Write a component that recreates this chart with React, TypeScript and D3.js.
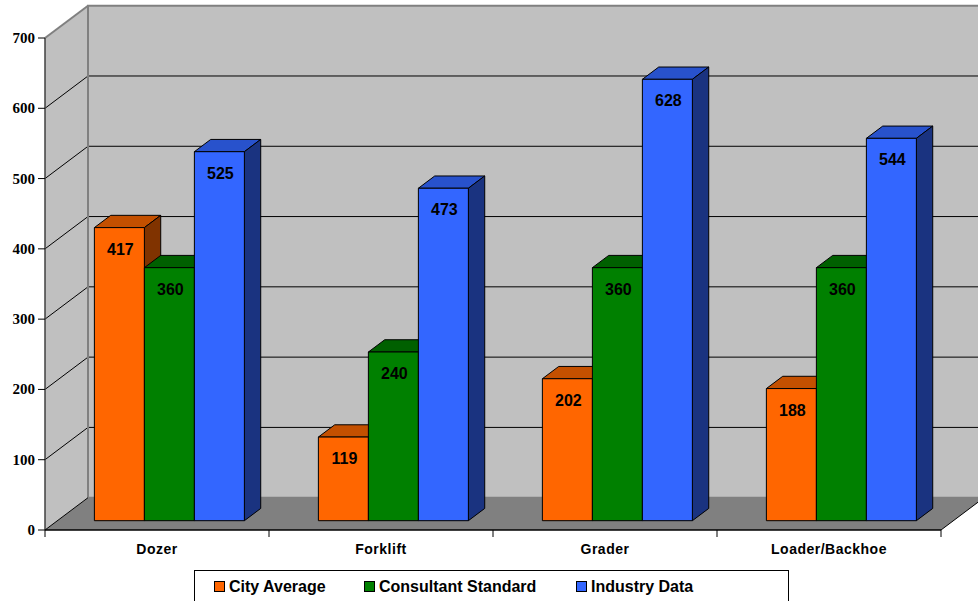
import React from "react";
import * as d3 from "d3";

// Chart data
const categories = ["Dozer", "Forklift", "Grader", "Loader/Backhoe"];
const seriesNames = ["City Average", "Consultant Standard", "Industry Data"];
const cityAverage = [417, 119, 202, 188];
const consultantStandard = [360, 240, 360, 360];
const industryData = [525, 473, 628, 544];
const yTicks = [0, 100, 200, 300, 400, 500, 600, 700];

const seriesValues = [cityAverage, consultantStandard, industryData];
const frontColors = ["#FF6600", "#008000", "#3366FF"];
const topColors = ["#C45000", "#006000", "#2852CC"];
const sideColors = ["#803300", "#004000", "#1A3380"];

const W = 978;
const H = 601;

// Oblique projection: depth fraction d in [0,1] shifts right and up
const DX = 43;
const DY = -32.3;
const BAR_FRONT = 0.288;
const BAR_DEPTH = 0.38;

const x = d3.scaleBand<string>().domain(categories).range([45, 941]).paddingInner(0).paddingOuter(0);
const xSub = d3.scaleBand<string>().domain(seriesNames).range([0, x.bandwidth()]).paddingInner(0).paddingOuter(0.74);
const y = d3.scaleLinear().domain([0, 700]).range([530, 38]);

const P = (px: number, v: number, d: number): [number, number] => [px + DX * d, y(v) + DY * d];
const poly = (pts: [number, number][]) => pts.map((p) => p.join(",")).join(" ");

export default function App() {
  const x0 = x.range()[0];
  const x1 = x.range()[1];
  const sideWall = poly([P(x0, 0, 0), P(x0, 0, 1), P(x0, 700, 1), P(x0, 700, 0)]);
  const backWall = poly([P(x0, 0, 1), P(x1, 0, 1), P(x1, 700, 1), P(x0, 700, 1)]);
  const floor = poly([P(x0, 0, 0), P(x1, 0, 0), P(x1, 0, 1), P(x0, 0, 1)]);

  const bars: React.ReactNode[] = [];
  const labels: React.ReactNode[] = [];
  categories.forEach((cat, ci) => {
    seriesNames.forEach((s, si) => {
      const v = seriesValues[si][ci];
      const left = (x(cat) as number) + (xSub(s) as number);
      const right = left + xSub.bandwidth();
      const a = BAR_FRONT;
      const b = BAR_FRONT + BAR_DEPTH;
      const top = poly([P(left, v, a), P(right, v, a), P(right, v, b), P(left, v, b)]);
      const side = poly([P(right, 0, a), P(right, 0, b), P(right, v, b), P(right, v, a)]);
      const front = poly([P(left, 0, a), P(right, 0, a), P(right, v, a), P(left, v, a)]);
      bars.push(
        <g key={`${ci}-${si}`} stroke="#000" strokeWidth={1} strokeLinejoin="round">
          <polygon points={top} fill={topColors[si]} />
          <polygon points={side} fill={sideColors[si]} />
          <polygon points={front} fill={frontColors[si]} />
        </g>
      );
      const [fx, fy] = P((left + right) / 2, v, a);
      labels.push(
        <text key={`l-${ci}-${si}`} x={fx + 1} y={fy + 27} textAnchor="middle"
          fontFamily="Liberation Sans, Arial, sans-serif" fontWeight="bold" fontSize={16} fill="#000">
          {v}
        </text>
      );
    });
  });

  const legendX = [214, 364, 576];

  return (
    <svg width={W} height={H} style={{ position: "absolute", left: 0, top: 0, background: "#fff" }}>
      {/* walls and floor */}
      <polygon points={sideWall} fill="#C0C0C0" />
      <polygon points={backWall} fill="#C0C0C0" />
      <polygon points={floor} fill="#808080" />

      {/* gridlines */}
      {yTicks.filter((t) => t > 0 && t < 700).map((t) => {
        const [ax, ay] = P(x0, t, 0);
        const [bx, by] = P(x0, t, 1);
        const [cx, cy] = P(x1, t, 1);
        return (
          <g key={`g${t}`} stroke="#000" strokeWidth={1} fill="none">
            <line x1={ax} y1={ay} x2={bx} y2={by} />
            <line x1={bx} y1={by} x2={cx} y2={cy} />
          </g>
        );
      })}

      {/* wall borders */}
      <g stroke="#808080" strokeWidth={2} fill="none">
        <polyline points={poly([P(x0, 0, 1), P(x0, 700, 1), P(x1, 700, 1)])} />
        <line x1={P(x0, 700, 0)[0]} y1={P(x0, 700, 0)[1]} x2={P(x0, 700, 1)[0]} y2={P(x0, 700, 1)[1]} />
        <line x1={P(x0, 0, 1)[0]} y1={P(x0, 0, 1)[1]} x2={P(x1, 0, 1)[0]} y2={P(x1, 0, 1)[1]} />
      </g>
      <g stroke="#000" strokeWidth={1} fill="none">
        <line x1={P(x0, 0, 0)[0]} y1={P(x0, 0, 0)[1]} x2={P(x0, 0, 1)[0]} y2={P(x0, 0, 1)[1]} />
        <line x1={P(x1, 0, 0)[0]} y1={P(x1, 0, 0)[1]} x2={P(x1, 0, 1)[0]} y2={P(x1, 0, 1)[1]} />
      </g>

      {/* bars */}
      {bars}
      {labels}

      {/* value axis */}
      <line x1={x0} y1={y(0)} x2={x0} y2={y(700)} stroke="#404040" strokeWidth={1.5} />
      {yTicks.map((t) => (
        <g key={`yt${t}`}>
          <line x1={x0 - 7} y1={y(t)} x2={x0} y2={y(t)} stroke="#000" strokeWidth={1} />
          <text x={x0 - 10} y={y(t) + 5} textAnchor="end"
            fontFamily="Liberation Serif, Times New Roman, serif" fontWeight="bold" fontSize={15} fill="#000">
            {t}
          </text>
        </g>
      ))}

      {/* category axis */}
      <line x1={x0} y1={y(0)} x2={x1} y2={y(0)} stroke="#000" strokeWidth={1.5} />
      {[...categories.map((c) => x(c) as number), x1].map((px, i) => (
        <line key={`xt${i}`} x1={px} y1={y(0)} x2={px} y2={y(0) + 7} stroke="#000" strokeWidth={1} />
      ))}
      {categories.map((c) => (
        <text key={`xl${c}`} x={(x(c) as number) + x.bandwidth() / 2} y={554} textAnchor="middle"
          fontFamily="Liberation Sans, Arial, sans-serif" fontWeight="bold" fontSize={14} letterSpacing={0.5} fill="#000">
          {c}
        </text>
      ))}

      {/* legend */}
      <rect x={194.5} y={570.5} width={594} height={40} fill="#fff" stroke="#000" strokeWidth={1} />
      {seriesNames.map((s, i) => (
        <g key={`lg${s}`}>
          <rect x={legendX[i] + 0.5} y={581.5} width={10} height={10} fill={frontColors[i]} stroke="#000" strokeWidth={1} />
          <text x={legendX[i] + 15} y={592} fontFamily="Liberation Sans, Arial, sans-serif" fontWeight="bold" fontSize={16} fill="#000">
            {s}
          </text>
        </g>
      ))}
    </svg>
  );
}
